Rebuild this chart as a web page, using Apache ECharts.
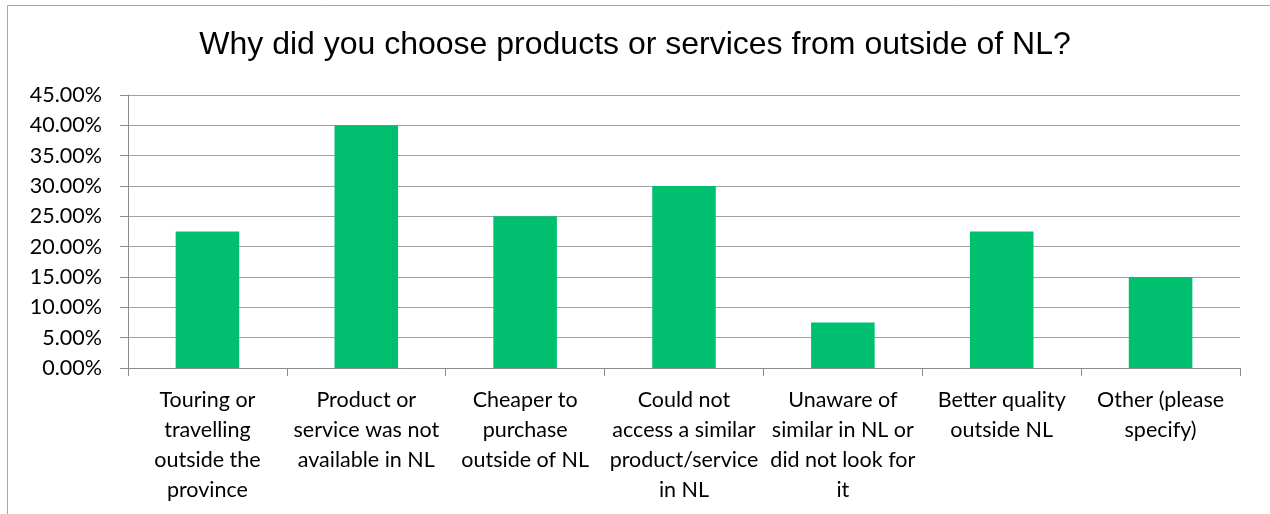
<!DOCTYPE html>
<html>
<head>
<meta charset="utf-8">
<script src="https://cdn.jsdelivr.net/npm/echarts@6/dist/echarts.min.js"></script>
<style>
html,body{margin:0;padding:0;background:#fff;}
#chart{width:1270px;height:514px;}
</style>
</head>
<body>
<div id="chart"></div>
<script>
const titleText = 'Why did you choose products or services from outside of NL?';
const categories = [
  'Touring or\ntravelling\noutside the\nprovince',
  'Product or\nservice was not\navailable in NL',
  'Cheaper to\npurchase\noutside of NL',
  'Could not\naccess a similar\nproduct/service\nin NL',
  'Unaware of\nsimilar in NL or\ndid not look for\nit',
  'Better quality\noutside NL',
  'Other (please\nspecify)'
];
const values = [22.5, 40, 25, 30, 7.5, 22.5, 15];
const yMin = 0, yMax = 45, yStep = 5;

const chart = echarts.init(document.getElementById('chart'), null, {renderer: 'canvas'});
chart.setOption({
  animation: false,
  backgroundColor: '#fff',
  graphic: [{
    type: 'rect', left: 5, top: 3, z: -1,
    shape: {width: 1263, height: 530},
    style: {fill: 'none', stroke: '#a6a6a6', lineWidth: 1}
  }],
  title: {
    text: titleText,
    left: 'center',
    top: 24,
    textStyle: {fontFamily: 'Liberation Sans', fontSize: 32, fontWeight: 'normal', color: '#000'}
  },
  grid: {left: 128, right: 30, top: 95, bottom: 146, containLabel: false},
  xAxis: {
    type: 'category',
    data: categories,
    axisLine: {show: true, lineStyle: {color: '#8c8c8c', width: 1}},
    axisTick: {show: true, length: 8, lineStyle: {color: '#8c8c8c'}},
    axisLabel: {interval: 0, margin: 17, fontFamily: 'Lato', fontSize: 21.5, lineHeight: 30, color: '#000', align: 'center'}
  },
  yAxis: {
    type: 'value',
    min: yMin, max: yMax, interval: yStep,
    axisLine: {show: true, lineStyle: {color: '#8c8c8c', width: 1}},
    axisTick: {show: true, length: 8, lineStyle: {color: '#8c8c8c'}},
    splitLine: {show: true, lineStyle: {color: '#a0a0a0', width: 1}},
    axisLabel: {margin: 26, fontFamily: 'Lato', fontSize: 21.5, color: '#000',
      formatter: v => v.toFixed(2) + '%'}
  },
  series: [{
    type: 'bar',
    data: values,
    barWidth: '40%',
    itemStyle: {color: '#00BF6F'}
  }]
});
</script>
</body>
</html>
